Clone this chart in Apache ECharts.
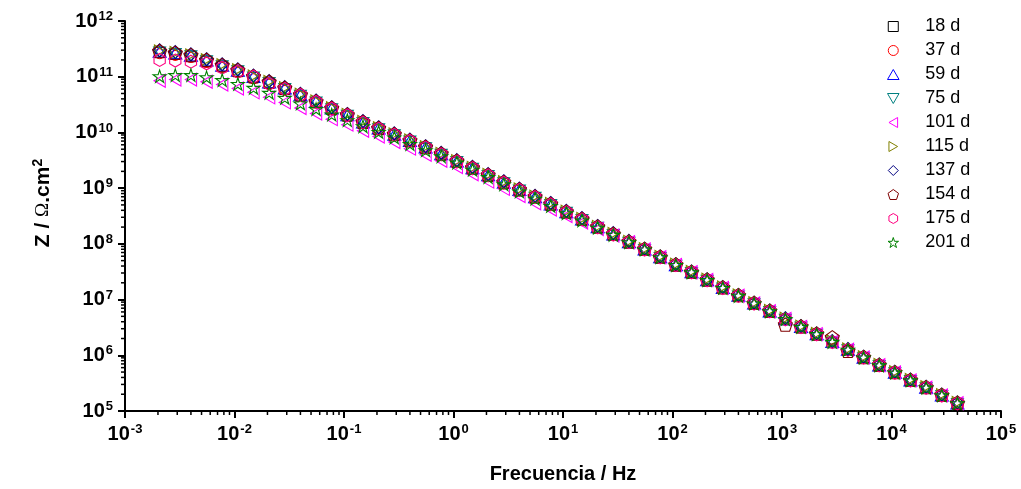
<!DOCTYPE html>
<html><head><meta charset="utf-8">
<script src="https://cdn.jsdelivr.net/npm/echarts@6/dist/echarts.min.js"></script>
<style>html,body{margin:0;padding:0;background:#fff}#c{width:1021px;height:489px}</style>
</head><body><div id="c"></div><script>
// Frequencies (Hz), ascending
const FREQ = [0.002072, 0.002879, 0.004, 0.005558, 0.007722, 0.01073, 0.01491, 0.02072, 0.02879, 0.04,
  0.05558, 0.07722, 0.1073, 0.1491, 0.2072, 0.2879, 0.4, 0.5558, 0.7722, 1.073,
  1.491, 2.072, 2.879, 4, 5.558, 7.722, 10.73, 14.91, 20.72, 28.79,
  40, 55.58, 77.22, 107.3, 149.1, 207.2, 287.9, 400, 555.8, 772.2,
  1073, 1491, 2072, 2879, 4000, 5558, 7722, 10730, 14910, 20720, 28790, 40000];

const NAMES = ['18 d', '37 d', '59 d', '75 d', '101 d', '115 d', '137 d', '154 d', '175 d', '201 d'];
const COLORS = ['#000000', '#FF0000', '#0000FF', '#008080', '#FF00FF', '#808000', '#000080', '#800000', '#FF0080', '#008000'];

const Z_18 = [2.74e11, 2.56e11, 2.33e11, 1.90e11, 1.54e11, 1.25e11, 9.69e10, 7.72e10, 5.99e10, 4.55e10, 3.45e10, 2.61e10, 1.99e10, 1.47e10, 1.14e10, 8.86e9, 6.88e9, 5.23e9, 3.96e9, 2.94e9, 2.22e9, 1.65e9, 1.23e9, 9.07e8, 6.73e8, 4.99e8, 3.61e8, 2.68e8, 1.94e8, 1.43e8, 1.05e8, 7.72e7, 5.60e7, 4.06e7, 3.00e7, 2.18e7, 1.58e7, 1.14e7, 8.27e6, 5.99e6, 4.34e6, 3.14e6, 2.33e6, 1.69e6, 1.23e6, 8.86e5, 6.42e5, 4.76e5, 3.45e5, 2.56e5, 1.85e5, 1.34e5];
const Z_37 = [2.59e11, 2.42e11, 2.21e11, 1.80e11, 1.46e11, 1.19e11, 9.18e10, 7.32e10, 5.68e10, 4.55e10, 3.45e10, 2.61e10, 1.99e10, 1.47e10, 1.14e10, 9.24e9, 7.17e9, 5.45e9, 4.13e9, 3.06e9, 2.32e9, 1.72e9, 1.28e9, 9.45e8, 7.01e8, 5.20e8, 3.76e8, 2.79e8, 2.02e8, 1.49e8, 1.09e8, 8.05e7, 5.83e7, 4.23e7, 3.13e7, 2.27e7, 1.64e7, 1.19e7, 8.62e6, 6.25e6, 4.52e6, 3.28e6, 2.43e6, 1.76e6, 1.28e6, 9.24e5, 6.69e5, 4.96e5, 3.59e5, 2.66e5, 1.93e5, 1.40e5];
const Z_59 = [2.82e11, 2.64e11, 2.40e11, 1.96e11, 1.59e11, 1.29e11, 1.00e11, 7.97e10, 6.18e10, 4.69e10, 3.56e10, 2.70e10, 2.05e10, 1.52e10, 1.18e10, 9.14e9, 7.10e9, 5.39e9, 4.09e9, 3.03e9, 2.29e9, 1.71e9, 1.26e9, 9.36e8, 6.94e8, 5.15e8, 3.72e8, 2.76e8, 2.00e8, 1.48e8, 1.08e8, 7.97e7, 5.77e7, 4.18e7, 3.10e7, 2.24e7, 1.63e7, 1.18e7, 8.54e6, 6.18e6, 4.48e6, 3.24e6, 2.40e6, 1.74e6, 1.26e6, 9.14e5, 6.62e5, 4.91e5, 3.56e5, 2.64e5, 1.91e5, 1.38e5];
const Z_75 = [2.76e11, 2.58e11, 2.35e11, 1.92e11, 1.56e11, 1.27e11, 9.79e10, 7.80e10, 6.06e10, 4.60e10, 3.48e10, 2.64e10, 2.01e10, 1.49e10, 1.15e10, 8.96e9, 6.95e9, 5.28e9, 4.00e9, 2.97e9, 2.25e9, 1.67e9, 1.24e9, 9.17e8, 6.80e8, 5.04e8, 3.65e8, 2.71e8, 1.96e8, 1.45e8, 1.06e8, 7.80e7, 5.65e7, 4.10e7, 3.03e7, 2.20e7, 1.59e7, 1.15e7, 8.36e6, 6.06e6, 4.39e6, 3.18e6, 2.35e6, 1.71e6, 1.24e6, 8.96e5, 6.49e5, 4.81e5, 3.48e5, 2.58e5, 1.87e5, 1.35e5];
const Z_101 = [8.47e10, 8.88e10, 8.88e10, 8.11e10, 7.23e10, 6.15e10, 5.24e10, 4.26e10, 3.46e10, 2.75e10, 2.18e10, 1.73e10, 1.38e10, 1.07e10, 8.47e9, 6.75e9, 5.12e9, 3.98e9, 3.09e9, 2.39e9, 1.78e9, 1.31e9, 9.71e8, 7.23e8, 5.36e8, 4.12e8, 3.16e8, 2.42e8, 1.85e8, 1.41e8, 1.07e8, 7.94e7, 5.75e7, 4.17e7, 3.09e7, 2.24e7, 1.62e7, 1.17e7, 8.51e6, 6.17e6, 4.47e6, 3.24e6, 2.40e6, 1.74e6, 1.26e6, 9.12e5, 6.61e5, 4.90e5, 3.55e5, 2.63e5, 1.91e5, 1.38e5];
const Z_115 = [2.91e11, 2.72e11, 2.47e11, 2.02e11, 1.64e11, 1.33e11, 1.03e11, 8.21e10, 6.37e10, 4.84e10, 3.67e10, 2.78e10, 2.11e10, 1.57e10, 1.21e10, 9.42e9, 7.31e9, 5.56e9, 4.21e9, 3.12e9, 2.36e9, 1.76e9, 1.30e9, 9.65e8, 7.15e8, 5.30e8, 3.84e8, 2.85e8, 2.06e8, 1.53e8, 1.11e8, 8.21e7, 5.95e7, 4.31e7, 3.19e7, 2.31e7, 1.68e7, 1.21e7, 8.80e6, 6.37e6, 4.62e6, 3.34e6, 2.47e6, 1.80e6, 1.30e6, 9.42e5, 6.83e5, 5.06e5, 3.67e5, 2.72e5, 1.97e5, 1.42e5];
const Z_137 = [2.97e11, 2.77e11, 2.52e11, 2.06e11, 1.67e11, 1.36e11, 1.05e11, 8.37e10, 6.50e10, 4.93e10, 3.74e10, 2.83e10, 2.15e10, 1.60e10, 1.24e10, 9.61e9, 7.46e9, 5.67e9, 4.30e9, 3.18e9, 2.41e9, 1.79e9, 1.33e9, 9.84e8, 7.29e8, 5.41e8, 3.91e8, 2.90e8, 2.10e8, 1.56e8, 1.13e8, 8.20e7, 5.95e7, 4.31e7, 3.19e7, 2.31e7, 1.68e7, 1.21e7, 8.80e6, 6.37e6, 4.62e6, 3.34e6, 2.47e6, 1.80e6, 1.30e6, 9.42e5, 6.83e5, 5.06e5, 3.67e5, 2.72e5, 1.97e5, 1.42e5];
const Z_154 = [2.88e11, 2.69e11, 2.45e11, 2.00e11, 1.62e11, 1.32e11, 1.02e11, 8.13e10, 6.31e10, 4.79e10, 3.63e10, 2.75e10, 2.09e10, 1.55e10, 1.20e10, 9.33e9, 7.24e9, 5.50e9, 4.17e9, 3.09e9, 2.34e9, 1.74e9, 1.29e9, 9.55e8, 7.08e8, 5.25e8, 3.80e8, 2.82e8, 2.04e8, 1.51e8, 1.10e8, 8.13e7, 5.89e7, 4.27e7, 3.16e7, 2.29e7, 1.66e7, 1.20e7, 8.71e6, 6.31e6, 3.55e6, 3.31e6, 2.45e6, 2.10e6, 1.20e6, 9.33e5, 6.76e5, 5.01e5, 3.63e5, 2.69e5, 1.95e5, 1.41e5];
const Z_175 = [2.00e11, 1.95e11, 1.86e11, 1.74e11, 1.45e11, 1.23e11, 1.00e11, 7.41e10, 6.00e10, 4.68e10, 3.52e10, 2.67e10, 2.03e10, 1.50e10, 1.16e10, 9.05e9, 7.02e9, 5.34e9, 4.04e9, 3.00e9, 2.27e9, 1.69e9, 1.25e9, 9.26e8, 6.87e8, 5.09e8, 3.69e8, 2.74e8, 1.98e8, 1.46e8, 1.07e8, 7.89e7, 5.71e7, 4.14e7, 3.07e7, 2.22e7, 1.61e7, 1.16e7, 8.45e6, 6.12e6, 4.43e6, 3.21e6, 2.38e6, 1.73e6, 1.25e6, 9.05e5, 6.56e5, 4.86e5, 3.52e5, 2.61e5, 1.89e5, 1.37e5];
const Z_201 = [1.02e11, 1.07e11, 1.07e11, 9.77e10, 8.71e10, 7.41e10, 6.31e10, 5.13e10, 4.17e10, 3.31e10, 2.63e10, 2.09e10, 1.66e10, 1.29e10, 1.02e10, 8.13e9, 6.17e9, 4.79e9, 3.72e9, 2.88e9, 2.14e9, 1.58e9, 1.17e9, 8.71e8, 6.46e8, 4.79e8, 3.55e8, 2.63e8, 1.95e8, 1.45e8, 1.07e8, 7.94e7, 5.75e7, 4.17e7, 3.09e7, 2.24e7, 1.62e7, 1.17e7, 8.51e6, 6.17e6, 4.47e6, 3.24e6, 2.40e6, 1.74e6, 1.26e6, 9.12e5, 6.61e5, 4.90e5, 3.55e5, 2.63e5, 1.91e5, 1.38e5];

const Z_ALL = [Z_18, Z_37, Z_59, Z_75, Z_101, Z_115, Z_137, Z_154, Z_175, Z_201];

// axis ranges and minor-tick multipliers
const X_MIN = 1e-3, X_MAX = 1e5;
const Y_MIN = 1e5, Y_MAX = 1e12;
const X_DECADES = [-3, -2, -1, 0, 1, 2, 3, 4];
const Y_DECADES = [5, 6, 7, 8, 9, 10, 11];
const MINOR_MULT = [2, 3, 4, 5, 6, 7, 8, 9];

const SYMBOLS = [
  'path://M0,0L100,0L100,100L0,100Z',
  'circle',
  'path://M50,0L100,86.6L0,86.6Z',
  'path://M0,0L100,0L50,86.6Z',
  'path://M86.6,0L86.6,100L0,50Z',
  'path://M0,0L0,100L86.6,50Z',
  'path://M50,0L100,50L50,100L0,50Z',
  'path://M50,0L97.55,34.55L79.39,90.45L20.61,90.45L2.45,34.55Z',
  'path://M50,0L93.3,25L93.3,75L50,100L6.7,75L6.7,25Z',
  'path://M50,0L61.23,34.55L97.55,34.55L68.17,55.9L79.39,90.45L50,69.1L20.61,90.45L31.83,55.9L2.45,34.55L38.77,34.55Z'
];
const SIZES = [10, 10, 13, 12, 13, 12, 13, 14, 13, 13];

const FONT = 'Liberation Sans, Arial, sans-serif';

const minorX = [];
X_DECADES.forEach(k => MINOR_MULT.forEach(m => minorX.push([m * Math.pow(10, k), Y_MIN])));
const minorY = [];
Y_DECADES.forEach(k => MINOR_MULT.forEach(m => minorY.push([X_MIN, m * Math.pow(10, k)])));

const expFmt = v => '{b|10}{s|' + Math.round(Math.log10(v)) + '}';
const labelRich = {
  b: {fontFamily: FONT, fontWeight: 'bold', fontSize: 20, lineHeight: 22, color: '#000'},
  s: {fontFamily: FONT, fontWeight: 'bold', fontSize: 13, lineHeight: 9, verticalAlign: 'top', color: '#000', padding: [0, 0, 0, 1]}
};

const series = NAMES.map((name, i) => ({
  name: name,
  type: 'scatter',
  symbol: SYMBOLS[i],
  symbolSize: SIZES[i],
  symbolKeepAspect: true,
  itemStyle: {color: 'rgba(0,0,0,0)', borderColor: COLORS[i], borderWidth: 1.1, opacity: 1},
  emphasis: {disabled: true},
  data: FREQ.map((f, j) => [f, Z_ALL[i][j]])
}));

series.push({
  name: 'minorX', type: 'custom', silent: true, clip: false, z: 5,
  renderItem: (p, api) => {
    const c = api.coord([api.value(0), api.value(1)]);
    return {type: 'line', shape: {x1: c[0], y1: c[1], x2: c[0], y2: c[1] + 4}, style: {stroke: '#000', lineWidth: 1.5}};
  },
  data: minorX
});
series.push({
  name: 'minorY', type: 'custom', silent: true, clip: false, z: 5,
  renderItem: (p, api) => {
    const c = api.coord([api.value(0), api.value(1)]);
    return {type: 'line', shape: {x1: c[0] - 4, y1: c[1], x2: c[0], y2: c[1]}, style: {stroke: '#000', lineWidth: 1.5}};
  },
  data: minorY
});

const chart = echarts.init(document.getElementById('c'), null, {renderer: 'canvas'});
chart.setOption({
  animation: false,
  backgroundColor: '#fff',
  grid: {left: 125, right: 20, top: 21, bottom: 75, containLabel: false},
  legend: {
    data: NAMES,
    orient: 'vertical',
    left: 882, top: 12,
    itemWidth: 54, itemHeight: 10, itemGap: 5,
    selectedMode: false,
    itemStyle: {borderWidth: 1},
    textStyle: {fontFamily: FONT, fontSize: 18, lineHeight: 19, color: '#000'}
  },
  xAxis: {
    type: 'log', logBase: 10, min: X_MIN, max: X_MAX, splitNumber: 8,
    axisLine: {onZero: false, lineStyle: {color: '#000', width: 2}},
    axisTick: {length: 7, lineStyle: {color: '#000', width: 2}},
    splitLine: {show: false},
    axisLabel: {margin: 12, formatter: expFmt, rich: labelRich},
    name: 'Frecuencia / Hz', nameLocation: 'middle', nameGap: 53,
    nameTextStyle: {fontFamily: FONT, fontWeight: 'bold', fontSize: 20, color: '#000'}
  },
  yAxis: {
    type: 'log', logBase: 10, min: Y_MIN, max: Y_MAX, splitNumber: 7,
    axisLine: {onZero: false, lineStyle: {color: '#000', width: 2}},
    axisTick: {length: 7, lineStyle: {color: '#000', width: 2}},
    splitLine: {show: false},
    axisLabel: {margin: 12, formatter: expFmt, rich: labelRich},
    name: '{b|Z / }{o|Ω}{b|.cm}{s|2}', nameLocation: 'middle', nameGap: 70, nameRotate: 90,
    nameTextStyle: {
      padding: [0, 0, 0, 26],
      rich: {
        b: {fontFamily: FONT, fontWeight: 'bold', fontSize: 21, lineHeight: 24, color: '#000'},
        o: {fontFamily: 'Liberation Serif, serif', fontSize: 19, lineHeight: 24, color: '#000'},
        s: {fontFamily: FONT, fontWeight: 'bold', fontSize: 14, lineHeight: 10, verticalAlign: 'top', color: '#000'}
      }
    }
  },
  series: series
});
</script></body></html>
